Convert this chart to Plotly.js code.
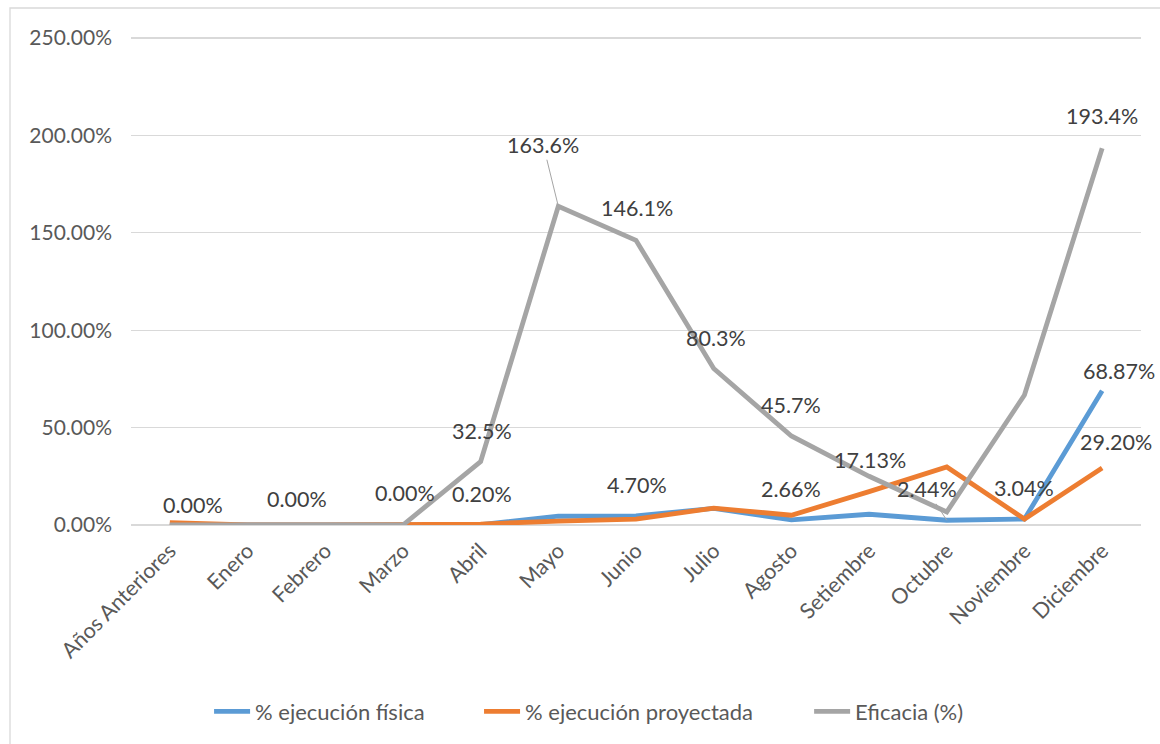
<!DOCTYPE html>
<html>
<head>
<meta charset="utf-8">
<script src="https://cdn.plot.ly/plotly-3.0.1.min.js"></script>
<style>html,body{margin:0;padding:0;background:#fff;}#chart{width:1160px;height:744px;}</style>
</head>
<body>
<div id="chart"></div>
<script>
// ---- data ----
const categories = ["Años Anteriores","Enero","Febrero","Marzo","Abril","Mayo","Junio","Julio","Agosto","Setiembre","Octubre","Noviembre","Diciembre"];
const ejecucionFisica     = [0.00, 0.00, 0.00, 0.00, 0.20, 4.50, 4.70, 8.50, 2.66, 5.50, 2.44, 3.04, 68.87];
const ejecucionProyectada = [1.20, 0.00, 0.00, 0.00, 0.50, 2.00, 3.00, 8.70, 5.00, 17.13, 29.80, 3.04, 29.20];
const eficacia            = [0.00, 0.00, 0.00, 0.00, 32.5, 163.6, 146.1, 80.3, 45.7, 25.0, 6.70, 66.7, 193.4];
const seriesNames = ["% ejecución física", "% ejecución proyectada", "Eficacia (%)"];
const yTickValues = [0, 50, 100, 150, 200, 250];
const yTickLabels = ["0.00%", "50.00%", "100.00%", "150.00%", "200.00%", "250.00%"];

// ---- styling ----
const FONT = "Lato, 'Open Sans', sans-serif";
const colors = ["#5B9BD5", "#ED7D31", "#A5A5A5"];
const allSeries = [ejecucionFisica, ejecucionProyectada, eficacia];
const legendIds = ["legend", "legend2", "legend3"];
const legendX = [0.0773, 0.3446, 0.6714];   // paper x of each legend entry

const traces = allSeries.map((vals, i) => ({
  type: "scatter", mode: "lines", name: seriesNames[i],
  x: categories, y: vals,
  line: {color: colors[i], width: 4.8},
  legend: legendIds[i],
  hoverinfo: "x+y"
}));

// data labels: [series index, category index, decimals, xshift, yshift, arrow ax, arrow ay]
const labelSpecs = [
  [0, 0, 2, 23, 20], [0, 1, 2, 49, 26], [0, 3, 2, 2, 32], [0, 4, 2, 1, 31],
  [0, 6, 2, 1, 31], [0, 8, 2, 0, 31], [1, 9, 2, 1, 32], [0, 10, 2, 0, 0, -20, -31],
  [0, 11, 2, 0, 31], [0, 12, 2, 17, 20], [1, 12, 2, 14, 26],
  [2, 4, 1, 1, 31], [2, 5, 1, 0, 0, -15, -61], [2, 6, 1, 1, 32], [2, 7, 1, 2, 31],
  [2, 8, 1, 0, 31], [2, 12, 1, 0, 32]
];
const annotations = labelSpecs.map(s => {
  const [si, ci, dec, xs, ys, ax, ay] = s;
  const v = allSeries[si][ci];
  const a = {
    x: categories[ci], y: v, xref: "x", yref: "y",
    text: v.toFixed(dec) + "%",
    font: {family: FONT, size: 21.5, color: "#404040"}
  };
  if (ax !== undefined) {
    Object.assign(a, {showarrow: true, ax: ax, ay: ay, arrowhead: 0, arrowwidth: 1, arrowcolor: "#A5A5A5", standoff: 0, startstandoff: 0});
  } else {
    Object.assign(a, {showarrow: false, xshift: xs, yshift: ys});
  }
  return a;
});

const legendBase = {
  orientation: "h", xanchor: "left", y: -0.38, yanchor: "middle", itemwidth: 36,
  font: {family: FONT, size: 22, color: "#595959"}, bgcolor: "rgba(0,0,0,0)"
};

const layout = {
  width: 1160, height: 744,
  margin: {l: 131, r: 19, t: 34, b: 219},
  paper_bgcolor: "#ffffff", plot_bgcolor: "#ffffff",
  font: {family: FONT, size: 21, color: "#595959"},
  showlegend: true,
  legend:  Object.assign({}, legendBase, {x: legendX[0]}),
  legend2: Object.assign({}, legendBase, {x: legendX[1]}),
  legend3: Object.assign({}, legendBase, {x: legendX[2]}),
  xaxis: {
    type: "category", categoryorder: "array", categoryarray: categories,
    range: [-0.5, categories.length - 0.5],
    tickangle: -45, showgrid: false, zeroline: false,
    showline: false, ticks: "", ticklabelstandoff: 8,
    tickfont: {family: FONT, size: 21.5, color: "#595959"},
    fixedrange: true
  },
  yaxis: {
    range: [0, 252], tickmode: "array", tickvals: yTickValues, ticktext: yTickLabels,
    showgrid: true, gridcolor: "#D9D9D9", gridwidth: 1.3,
    zeroline: true, zerolinecolor: "#D9D9D9", zerolinewidth: 1.3,
    showline: false, ticks: "", ticklabelstandoff: 18,
    tickfont: {family: FONT, size: 21, color: "#595959"},
    fixedrange: true
  },
  annotations: annotations,
  shapes: [{
    type: "rect", xref: "paper", yref: "paper",
    x0: -0.1198, x1: 1.03, y0: -0.47, y1: 1.053,
    line: {color: "#D9D9D9", width: 1.3}, fillcolor: "rgba(0,0,0,0)", layer: "below"
  }]
};

Plotly.newPlot("chart", traces, layout, {displayModeBar: false, staticPlot: true});
</script>
</body>
</html>
